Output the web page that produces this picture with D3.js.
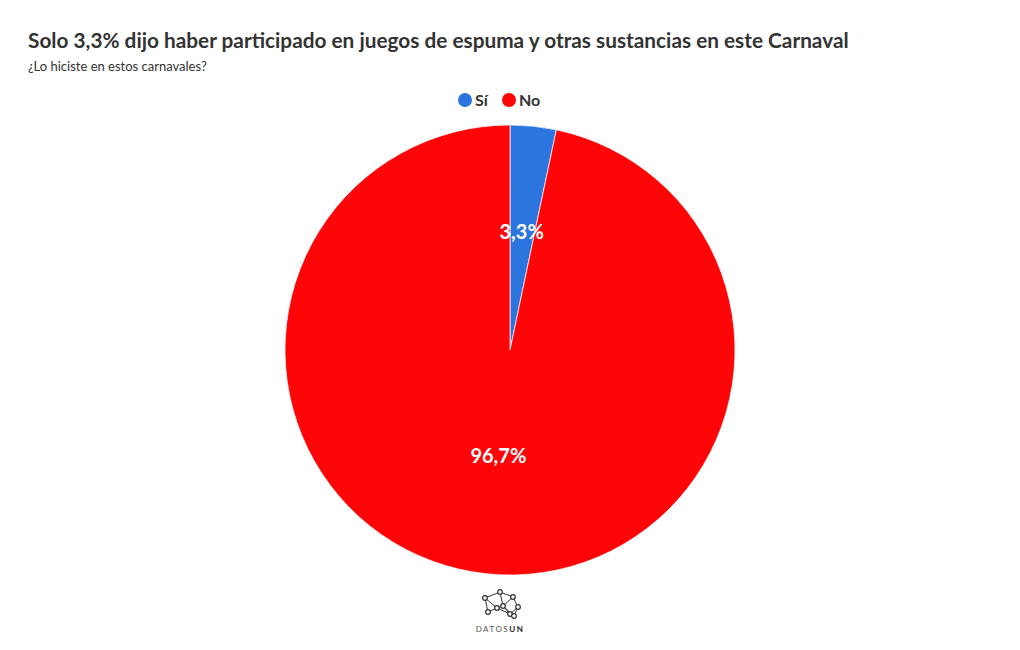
<!DOCTYPE html>
<html>
<head>
<meta charset="utf-8">
<script src="https://cdn.jsdelivr.net/npm/d3@7"></script>
<style>
  body { margin: 0; background: #fff; }
  text { font-family: "Lato", "Open Sans", sans-serif; }
</style>
</head>
<body>
<svg id="chart" width="1020" height="650"></svg>
<script>
// data
var categories = ["Sí", "No"];
var values = [3.3, 96.7];
var labels = ["3,3%", "96,7%"];
var colors = ["#2c75df", "#fe0508"];

var title = "Solo 3,3% dijo haber participado en juegos de espuma y otras sustancias en este Carnaval";
var subtitle = "¿Lo hiciste en estos carnavales?";

var svg = d3.select("#chart");

svg.append("text")
    .attr("x", 28).attr("y", 48)
    .style("font-size", "20.8px")
    .style("font-weight", "bold")
    .style("fill", "#333")
    .text(title);

svg.append("text")
    .attr("x", 28).attr("y", 71)
    .style("font-size", "13px")
    .style("fill", "#333")
    .text(subtitle);

// legend
var legend = svg.append("g").attr("transform", "translate(465,100)");
var lx = [0, 44];
categories.forEach(function (c, i) {
    var g = legend.append("g").attr("transform", "translate(" + lx[i] + ",0)");
    g.append("circle").attr("r", 7).style("fill", colors[i]);
    g.append("text")
        .attr("x", 10).attr("y", 6)
        .style("font-size", "16px")
        .style("font-weight", "bold")
        .style("fill", "#333")
        .text(c);
});

// pie
var cx = 510, cy = 350, R = 225;
var pie = d3.pie().sort(null).value(function (d) { return d; });
var arc = d3.arc().innerRadius(0).outerRadius(R);
var arcs = pie(values);

var g = svg.append("g").attr("transform", "translate(" + cx + "," + cy + ")");
g.selectAll("path")
    .data(arcs)
    .enter().append("path")
    .attr("d", arc)
    .style("fill", function (d, i) { return colors[i]; })
    .style("stroke", "#fff")
    .style("stroke-width", 0.7);

g.selectAll("text.lbl")
    .data(arcs)
    .enter().append("text")
    .attr("class", "lbl")
    .attr("transform", function (d) { return "translate(" + arc.centroid(d) + ")"; })
    .attr("text-anchor", "middle")
    .attr("dy", "0.05em")
    .style("font-size", "20px")
    .style("font-weight", "bold")
    .style("fill", "#fff")
    .text(function (d, i) { return labels[i]; });

// logo (rough sketch of the network mark)
var logoNodes = [[485,598],[500,592],[513,597],[518,607],[510,614],[497,608],[488,612],[503,606],[514,616]];
var logoLinks = [[0,1],[1,2],[2,3],[3,4],[4,5],[5,0],[5,6],[6,0],[1,7],[7,4],[5,7],[2,7],[3,8],[4,8],[7,8]];
var logo = svg.append("g");
logoLinks.forEach(function (l) {
    logo.append("line")
        .attr("x1", logoNodes[l[0]][0]).attr("y1", logoNodes[l[0]][1])
        .attr("x2", logoNodes[l[1]][0]).attr("y2", logoNodes[l[1]][1])
        .style("stroke", "#333").style("stroke-width", 1);
});
logoNodes.forEach(function (n) {
    logo.append("circle").attr("cx", n[0]).attr("cy", n[1]).attr("r", 2.3)
        .style("fill", "#fff").style("stroke", "#333").style("stroke-width", 1.2);
});
var lt = logo.append("text").attr("x", 500).attr("y", 632)
    .attr("text-anchor", "middle")
    .style("font-size", "8px")
    .style("letter-spacing", "1.5px")
    .style("fill", "#555");
lt.append("tspan").text("DATOS");
lt.append("tspan").style("font-weight", "bold").style("fill", "#222").text("UN");
</script>
</body>
</html>
